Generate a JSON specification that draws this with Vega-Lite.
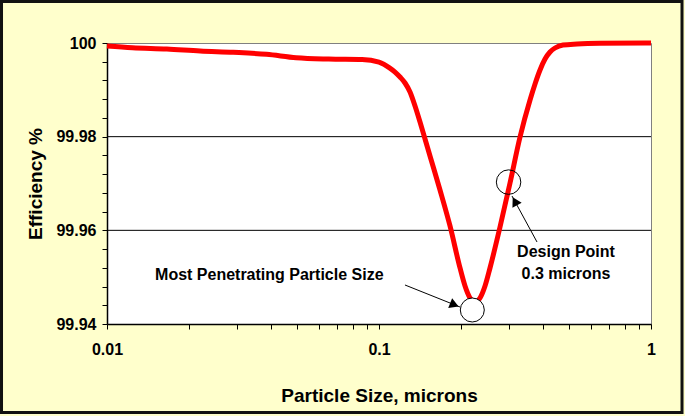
{
  "$schema": "https://vega.github.io/schema/vega-lite/v6.json",
  "width": 544,
  "height": 281,
  "autosize": {"type": "none"},
  "padding": {"left": 107, "top": 43, "right": 34, "bottom": 92},
  "background": "#FFFFCC",
  "config": {
    "view": {"fill": "white", "stroke": "#808080", "strokeWidth": 1},
    "font": "Liberation Sans"
  },
  "encoding": {
    "x": {
      "field": "x", "type": "quantitative",
      "scale": {"type": "log", "domain": [0.01, 1], "nice": false},
      "axis": {
        "title": "Particle Size, microns",
        "values": [0.01, 0.02, 0.03, 0.04, 0.05, 0.06, 0.07, 0.08, 0.09, 0.1, 0.2, 0.3, 0.4, 0.5, 0.6, 0.7, 0.8, 0.9, 1],
        "labelExpr": "abs(log(datum.value)/LN10 - round(log(datum.value)/LN10)) < 0.001 ? format(datum.value, '~g') : ''",
        "grid": false,
        "domainColor": "black", "domainWidth": 1.5,
        "tickColor": "black", "tickSize": 5,
        "labelFontSize": 16, "labelFontWeight": "bold", "labelColor": "black", "labelPadding": 12,
        "labelOverlap": false, "labelFlush": false,
        "titleFontSize": 19, "titleFontWeight": "bold", "titleColor": "black", "titlePadding": 29
      }
    },
    "y": {
      "field": "y", "type": "quantitative",
      "scale": {"domain": [99.94, 100], "nice": false, "zero": false},
      "axis": {
        "title": "Efficiency %",
        "values": [99.94, 99.944, 99.948, 99.952, 99.956, 99.96, 99.964, 99.968, 99.972, 99.976, 99.98, 99.984, 99.988, 99.992, 99.996, 100],
        "labelExpr": "(round(datum.value*1000) % 20 == 0) ? format(datum.value, '.2~f') : ''",
        "grid": false,
        "domainColor": "black", "domainWidth": 1.5,
        "tickColor": "black", "tickSize": 5,
        "labelFontSize": 16, "labelFontWeight": "bold", "labelColor": "black", "labelPadding": 6,
        "labelOverlap": false, "labelFlush": false,
        "titleFontSize": 19, "titleFontWeight": "bold", "titleColor": "black", "titlePadding": 10
      }
    }
  },
  "layer": [
    {
      "data": {"values": [
        {"x": 0.01, "x2": 1, "y": 99.96},
        {"x": 0.01, "x2": 1, "y": 99.98}
      ]},
      "mark": {"type": "rule", "color": "black", "strokeWidth": 1},
      "encoding": {"x2": {"field": "x2"}}
    },
    {
      "data": {"values": [
        {"x": 0.01, "y": 99.99936},
        {"x": 0.0124, "y": 99.999},
        {"x": 0.0166, "y": 99.99872},
        {"x": 0.022, "y": 99.99829},
        {"x": 0.0291, "y": 99.99801},
        {"x": 0.0386, "y": 99.99759},
        {"x": 0.0496, "y": 99.99686},
        {"x": 0.0653, "y": 99.99658},
        {"x": 0.0867, "y": 99.99648},
        {"x": 0.1, "y": 99.9959},
        {"x": 0.1093, "y": 99.9947},
        {"x": 0.11452, "y": 99.9938},
        {"x": 0.11947, "y": 99.99274},
        {"x": 0.12465, "y": 99.99146},
        {"x": 0.13003, "y": 99.98954},
        {"x": 0.13566, "y": 99.98655},
        {"x": 0.14152, "y": 99.98313},
        {"x": 0.14764, "y": 99.9795},
        {"x": 0.15399, "y": 99.97587},
        {"x": 0.1676, "y": 99.96861},
        {"x": 0.18242, "y": 99.96093},
        {"x": 0.19855, "y": 99.95196},
        {"x": 0.20714, "y": 99.94811},
        {"x": 0.21609, "y": 99.94555},
        {"x": 0.22544, "y": 99.9447},
        {"x": 0.23516, "y": 99.94555},
        {"x": 0.24533, "y": 99.94811},
        {"x": 0.2559, "y": 99.95196},
        {"x": 0.27856, "y": 99.96071},
        {"x": 0.30317, "y": 99.97011},
        {"x": 0.32997, "y": 99.97993},
        {"x": 0.35913, "y": 99.98783},
        {"x": 0.37466, "y": 99.99125},
        {"x": 0.39084, "y": 99.99423},
        {"x": 0.40772, "y": 99.99658},
        {"x": 0.42537, "y": 99.99808},
        {"x": 0.44367, "y": 99.99893},
        {"x": 0.47478, "y": 99.99957},
        {"x": 0.53453, "y": 99.99979},
        {"x": 0.6494, "y": 99.99994},
        {"x": 1, "y": 100}
      ]},
      "mark": {"type": "line", "color": "#FF0000", "strokeWidth": 5, "interpolate": "monotone"}
    },
    {
      "data": {"values": [
        {"x": 0.1246, "y": 99.94833, "x2": 0.1985, "y2": 99.94363},
        {"x": 0.381, "y": 99.95751, "x2": 0.3083, "y2": 99.96733}
      ]},
      "mark": {"type": "rule", "color": "black", "strokeWidth": 1},
      "encoding": {"x2": {"field": "x2"}, "y2": {"field": "y2"}}
    },
    {
      "data": {"values": [
        {"x": 0.1893, "y": 99.9441, "a": 112},
        {"x": 0.3159, "y": 99.9662, "a": 331.5}
      ]},
      "mark": {"type": "point", "shape": "triangle-up", "filled": true, "color": "black", "size": 110, "opacity": 1},
      "encoding": {"angle": {"field": "a", "type": "quantitative", "scale": null}}
    },
    {
      "data": {"values": [{"x": 0.2203, "y": 99.94299}]},
      "mark": {"type": "point", "shape": "circle", "size": 576, "fill": "white", "fillOpacity": 1, "stroke": "black", "strokeWidth": 1, "opacity": 1}
    },
    {
      "data": {"values": [{"x": 0.2995, "y": 99.9703}]},
      "mark": {"type": "point", "shape": "circle", "size": 600, "filled": false, "stroke": "black", "strokeWidth": 1, "opacity": 1}
    },
    {
      "data": {"values": [{"x": 0.01502, "y": 99.95046, "t": "Most Penetrating Particle Size"}]},
      "mark": {"type": "text", "align": "left", "baseline": "middle", "fontSize": 16, "fontWeight": "bold", "color": "black"},
      "encoding": {"text": {"field": "t"}}
    },
    {
      "data": {"values": [
        {"x": 0.487, "y": 99.95527, "t": "Design Point"},
        {"x": 0.487, "y": 99.95078, "t": "0.3 microns"}
      ]},
      "mark": {"type": "text", "align": "center", "baseline": "middle", "fontSize": 16, "fontWeight": "bold", "color": "black"},
      "encoding": {"text": {"field": "t"}}
    },
    {
      "data": {"values": [{"x": 0.0040943, "x2": 1.3002, "y": 100.008861, "y2": 99.921103}]},
      "mark": {"type": "rect", "fill": null, "fillOpacity": 0, "stroke": "#111111", "strokeWidth": 3},
      "encoding": {"x2": {"field": "x2"}, "y2": {"field": "y2"}}
    }
  ]
}
